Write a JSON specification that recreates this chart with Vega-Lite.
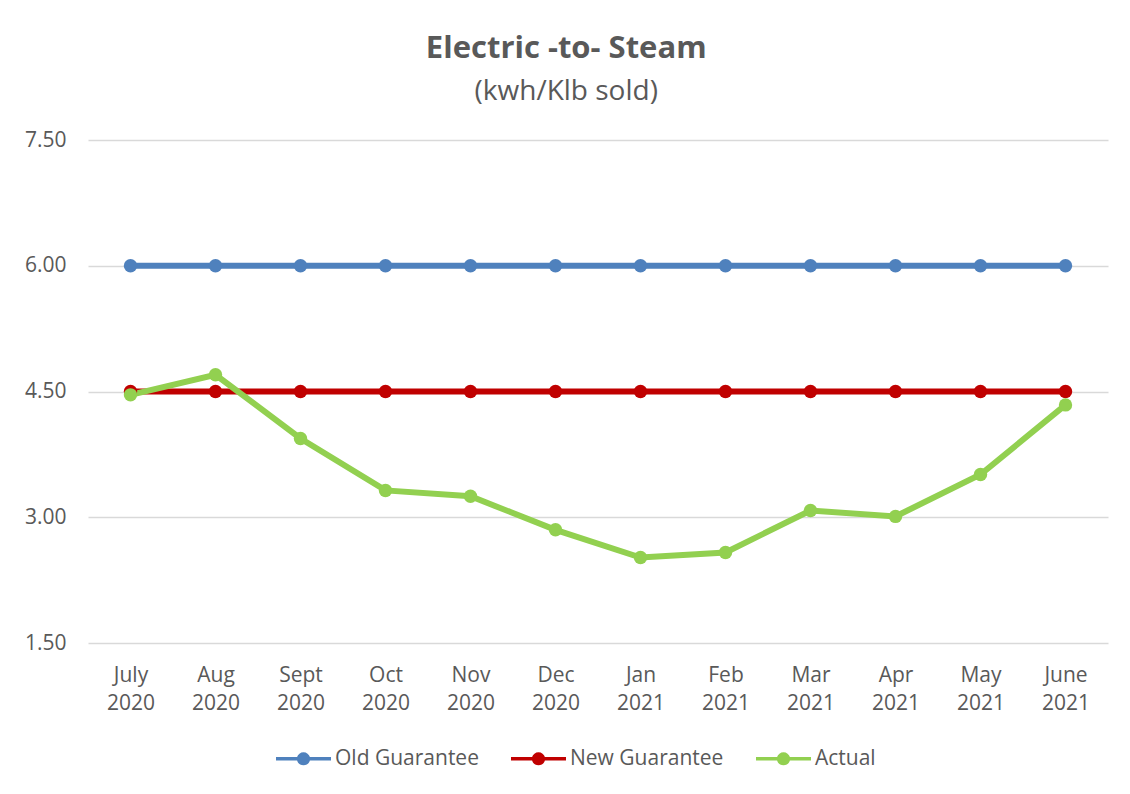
{
  "$schema": "https://vega.github.io/schema/vega-lite/v6.json",
  "autosize": {"type": "none"},
  "width": 1020,
  "height": 503,
  "padding": {"left": 88, "top": 140, "right": 22, "bottom": 151},
  "background": "white",
  "title": {
    "text": "Electric -to- Steam",
    "subtitle": "(kwh/Klb sold)",
    "anchor": "middle",
    "frame": "bounds",
    "font": "Open Sans",
    "fontSize": 31,
    "fontWeight": "bold",
    "color": "#595959",
    "subtitleFont": "Open Sans",
    "subtitleFontSize": 28,
    "subtitleColor": "#595959",
    "subtitlePadding": 13,
    "offset": 22
  },
  "data": {
    "values": [
      {"month": "July 2020", "series": "Old Guarantee", "value": 6.0},
      {"month": "Aug 2020", "series": "Old Guarantee", "value": 6.0},
      {"month": "Sept 2020", "series": "Old Guarantee", "value": 6.0},
      {"month": "Oct 2020", "series": "Old Guarantee", "value": 6.0},
      {"month": "Nov 2020", "series": "Old Guarantee", "value": 6.0},
      {"month": "Dec 2020", "series": "Old Guarantee", "value": 6.0},
      {"month": "Jan 2021", "series": "Old Guarantee", "value": 6.0},
      {"month": "Feb 2021", "series": "Old Guarantee", "value": 6.0},
      {"month": "Mar 2021", "series": "Old Guarantee", "value": 6.0},
      {"month": "Apr 2021", "series": "Old Guarantee", "value": 6.0},
      {"month": "May 2021", "series": "Old Guarantee", "value": 6.0},
      {"month": "June 2021", "series": "Old Guarantee", "value": 6.0},
      {"month": "July 2020", "series": "New Guarantee", "value": 4.5},
      {"month": "Aug 2020", "series": "New Guarantee", "value": 4.5},
      {"month": "Sept 2020", "series": "New Guarantee", "value": 4.5},
      {"month": "Oct 2020", "series": "New Guarantee", "value": 4.5},
      {"month": "Nov 2020", "series": "New Guarantee", "value": 4.5},
      {"month": "Dec 2020", "series": "New Guarantee", "value": 4.5},
      {"month": "Jan 2021", "series": "New Guarantee", "value": 4.5},
      {"month": "Feb 2021", "series": "New Guarantee", "value": 4.5},
      {"month": "Mar 2021", "series": "New Guarantee", "value": 4.5},
      {"month": "Apr 2021", "series": "New Guarantee", "value": 4.5},
      {"month": "May 2021", "series": "New Guarantee", "value": 4.5},
      {"month": "June 2021", "series": "New Guarantee", "value": 4.5},
      {"month": "July 2020", "series": "Actual", "value": 4.46},
      {"month": "Aug 2020", "series": "Actual", "value": 4.7},
      {"month": "Sept 2020", "series": "Actual", "value": 3.94},
      {"month": "Oct 2020", "series": "Actual", "value": 3.32},
      {"month": "Nov 2020", "series": "Actual", "value": 3.25},
      {"month": "Dec 2020", "series": "Actual", "value": 2.85},
      {"month": "Jan 2021", "series": "Actual", "value": 2.52},
      {"month": "Feb 2021", "series": "Actual", "value": 2.58},
      {"month": "Mar 2021", "series": "Actual", "value": 3.08},
      {"month": "Apr 2021", "series": "Actual", "value": 3.01},
      {"month": "May 2021", "series": "Actual", "value": 3.51},
      {"month": "June 2021", "series": "Actual", "value": 4.34}
    ]
  },
  "mark": {"type": "line", "strokeWidth": 6, "point": {"filled": true, "size": 180, "opacity": 1}},
  "encoding": {
    "x": {
      "field": "month",
      "type": "ordinal",
      "sort": null,
      "scale": {"type": "point", "padding": 0.5},
      "axis": {
        "title": null,
        "labelAngle": 0,
        "labelExpr": "split(datum.label, ' ')",
        "labelFont": "Open Sans",
        "labelFontSize": 21,
        "labelLineHeight": 28,
        "labelColor": "#595959",
        "labelPadding": 21,
        "domain": false,
        "ticks": false,
        "grid": false
      }
    },
    "y": {
      "field": "value",
      "type": "quantitative",
      "scale": {"domain": [1.5, 7.5], "nice": false, "zero": false},
      "axis": {
        "title": null,
        "values": [1.5, 3, 4.5, 6, 7.5],
        "format": ".2f",
        "labelFont": "Open Sans",
        "labelFontSize": 21,
        "labelColor": "#595959",
        "labelPadding": 22,
        "domain": false,
        "ticks": false,
        "grid": true,
        "gridColor": "#D9D9D9",
        "gridWidth": 1.5
      }
    },
    "color": {
      "field": "series",
      "type": "nominal",
      "sort": null,
      "scale": {"domain": ["Old Guarantee", "New Guarantee", "Actual"], "range": ["#4F81BD", "#C00000", "#92D050"]},
      "legend": {
        "title": null,
        "orient": "none",
        "direction": "horizontal",
        "legendX": 188,
        "legendY": 591,
        "padding": 0,
        "symbolType": "M-1,-0.06 L-0.2324,-0.06 A0.24,0.24 0 0,1 0.2324,-0.06 L1,-0.06 L1,0.06 L0.2324,0.06 A0.24,0.24 0 0,1 -0.2324,0.06 L-1,0.06 Z",
        "symbolSize": 3025,
        "symbolStrokeWidth": 0,
        "labelFont": "Open Sans",
        "labelFontSize": 21,
        "labelColor": "#595959",
        "labelOffset": 4,
        "columnPadding": 32,
        "encode": {
          "symbols": {"update": {"fill": {"scale": "color", "field": "value"}, "fillOpacity": {"value": 1}, "strokeWidth": {"value": 0}}}
        }
      }
    }
  },
  "config": {"view": {"stroke": null}}
}
